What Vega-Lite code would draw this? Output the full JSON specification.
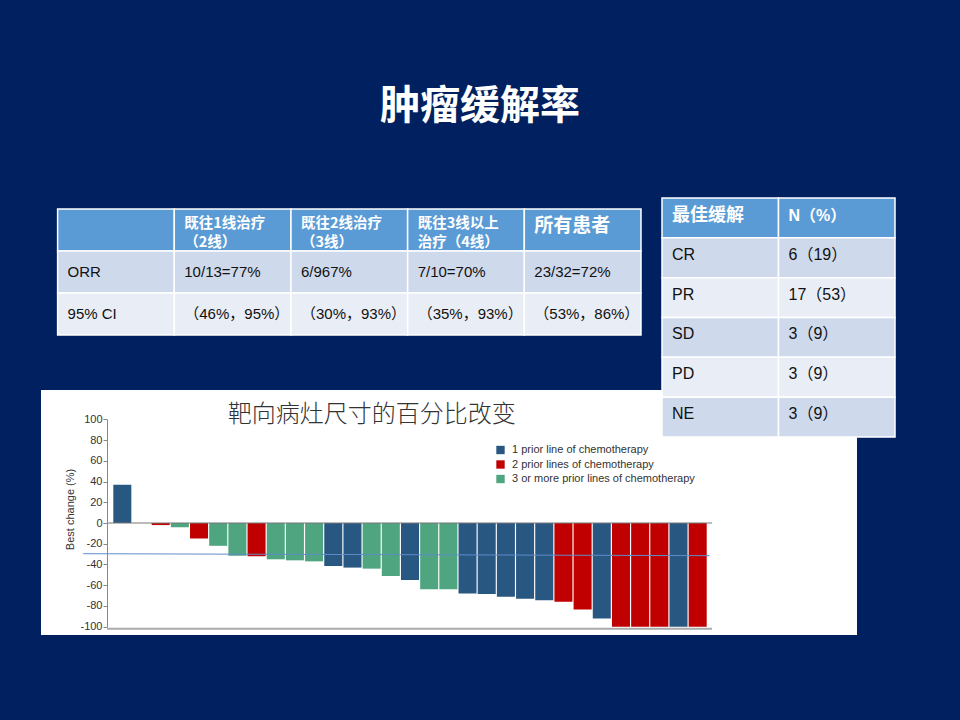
{
  "$schema": "https://vega.github.io/schema/vega-lite/v6.json",
  "width": 960,
  "height": 720,
  "autosize": "none",
  "padding": 0,
  "background": "#002060",
  "config": {"view": {"stroke": null}},
  "title": {
    "text": "肿瘤缓解率",
    "color": "white",
    "font": "Noto Sans CJK SC",
    "fontSize": 40,
    "fontWeight": "bold",
    "anchor": "middle",
    "frame": "group",
    "offset": 0,
    "baseline": "top",
    "dy": 127
  },
  "datasets": {
    "orr": [
      {"row": 0, "col": 0, "text": ""},
      {"row": 0, "col": 1, "text": "既往1线治疗\n（2线）"},
      {"row": 0, "col": 2, "text": "既往2线治疗\n（3线）"},
      {"row": 0, "col": 3, "text": "既往3线以上\n治疗（4线）"},
      {"row": 0, "col": 4, "text": "所有患者"},
      {"row": 1, "col": 0, "text": "ORR"},
      {"row": 1, "col": 1, "text": "10/13=77%"},
      {"row": 1, "col": 2, "text": "6/967%"},
      {"row": 1, "col": 3, "text": "7/10=70%"},
      {"row": 1, "col": 4, "text": "23/32=72%"},
      {"row": 2, "col": 0, "text": "95% CI"},
      {"row": 2, "col": 1, "text": "（46%，95%）"},
      {"row": 2, "col": 2, "text": "（30%，93%）"},
      {"row": 2, "col": 3, "text": "（35%，93%）"},
      {"row": 2, "col": 4, "text": "（53%，86%）"}
    ],
    "best": [
      {"row": 0, "col": 0, "text": "最佳缓解"},
      {"row": 0, "col": 1, "text": "N（%）"},
      {"row": 1, "col": 0, "text": "CR"},
      {"row": 1, "col": 1, "text": "6（19）"},
      {"row": 2, "col": 0, "text": "PR"},
      {"row": 2, "col": 1, "text": "17（53）"},
      {"row": 3, "col": 0, "text": "SD"},
      {"row": 3, "col": 1, "text": "3（9）"},
      {"row": 4, "col": 0, "text": "PD"},
      {"row": 4, "col": 1, "text": "3（9）"},
      {"row": 5, "col": 0, "text": "NE"},
      {"row": 5, "col": 1, "text": "3（9）"}
    ],
    "waterfall": [
      {"patient": 1, "change": 37, "group": "1 prior line of chemotherapy"},
      {"patient": 3, "change": -2, "group": "2 prior lines of chemotherapy"},
      {"patient": 4, "change": -4, "group": "3 or more prior lines of chemotherapy"},
      {"patient": 5, "change": -15, "group": "2 prior lines of chemotherapy"},
      {"patient": 6, "change": -22, "group": "3 or more prior lines of chemotherapy"},
      {"patient": 7, "change": -31.5, "group": "3 or more prior lines of chemotherapy"},
      {"patient": 8, "change": -32, "group": "2 prior lines of chemotherapy"},
      {"patient": 9, "change": -35, "group": "3 or more prior lines of chemotherapy"},
      {"patient": 10, "change": -36, "group": "3 or more prior lines of chemotherapy"},
      {"patient": 11, "change": -37, "group": "3 or more prior lines of chemotherapy"},
      {"patient": 12, "change": -41.5, "group": "1 prior line of chemotherapy"},
      {"patient": 13, "change": -43, "group": "1 prior line of chemotherapy"},
      {"patient": 14, "change": -44, "group": "3 or more prior lines of chemotherapy"},
      {"patient": 15, "change": -51, "group": "3 or more prior lines of chemotherapy"},
      {"patient": 16, "change": -55, "group": "1 prior line of chemotherapy"},
      {"patient": 17, "change": -64, "group": "3 or more prior lines of chemotherapy"},
      {"patient": 18, "change": -64, "group": "3 or more prior lines of chemotherapy"},
      {"patient": 19, "change": -68, "group": "1 prior line of chemotherapy"},
      {"patient": 20, "change": -68.5, "group": "1 prior line of chemotherapy"},
      {"patient": 21, "change": -71, "group": "1 prior line of chemotherapy"},
      {"patient": 22, "change": -73, "group": "1 prior line of chemotherapy"},
      {"patient": 23, "change": -74.5, "group": "1 prior line of chemotherapy"},
      {"patient": 24, "change": -76, "group": "2 prior lines of chemotherapy"},
      {"patient": 25, "change": -83.5, "group": "2 prior lines of chemotherapy"},
      {"patient": 26, "change": -92, "group": "1 prior line of chemotherapy"},
      {"patient": 27, "change": -100, "group": "2 prior lines of chemotherapy"},
      {"patient": 28, "change": -100, "group": "2 prior lines of chemotherapy"},
      {"patient": 29, "change": -100, "group": "2 prior lines of chemotherapy"},
      {"patient": 30, "change": -100, "group": "1 prior line of chemotherapy"},
      {"patient": 31, "change": -100, "group": "2 prior lines of chemotherapy"}
    ]
  },
  "layer": [
    {
      "data": {"values": [{"panel": "waterfall"}]},
      "mark": {"type": "rect", "color": "white"},
      "encoding": {
        "x": {"field": "panel", "type": "nominal", "scale": {"range": [41, 857], "paddingInner": 0, "paddingOuter": 0}, "axis": null},
        "y": {"field": "panel", "type": "nominal", "scale": {"range": [390, 635], "paddingInner": 0, "paddingOuter": 0}, "axis": null}
      }
    },
    {
      "data": {"name": "orr"},
      "layer": [
        {
          "mark": {"type": "rect", "stroke": "white", "strokeWidth": 1.5},
          "encoding": {
            "x": {"field": "col", "type": "ordinal", "scale": {"range": [57.6, 641], "paddingInner": 0, "paddingOuter": 0}, "axis": null},
            "y": {"field": "row", "type": "ordinal", "scale": {"range": [209, 335], "paddingInner": 0, "paddingOuter": 0}, "axis": null},
            "color": {"field": "row", "type": "ordinal", "scale": {"range": ["#5b9bd5", "#cfd9ec", "#e9edf5"]}, "legend": null}
          }
        },
        {
          "transform": [{"filter": "datum.row == 0"}],
          "mark": {"type": "text", "align": "left", "baseline": "top", "dx": 10, "dy": 8, "lineBreak": "\n", "lineHeight": 19, "font": "Noto Sans CJK SC", "fontWeight": "bold", "color": "white"},
          "encoding": {
            "x": {"field": "col", "type": "ordinal", "bandPosition": 0, "axis": null},
            "y": {"field": "row", "type": "ordinal", "bandPosition": 0, "axis": null},
            "text": {"field": "text"},
            "size": {"condition": {"test": "datum.col == 4", "value": 19}, "value": 14.5}
          }
        },
        {
          "transform": [{"filter": "datum.row > 0"}],
          "mark": {"type": "text", "align": "left", "baseline": "middle", "dx": 10, "fontSize": 15, "font": "Liberation Sans, Noto Sans CJK SC", "color": "#111111"},
          "encoding": {
            "x": {"field": "col", "type": "ordinal", "bandPosition": 0, "axis": null},
            "y": {"field": "row", "type": "ordinal", "axis": null},
            "text": {"field": "text"}
          }
        }
      ]
    },
    {
      "data": {"name": "best"},
      "layer": [
        {
          "mark": {"type": "rect", "stroke": "white", "strokeWidth": 1.5},
          "encoding": {
            "x": {"field": "col", "type": "ordinal", "scale": {"range": [662, 895], "paddingInner": 0, "paddingOuter": 0}, "axis": null},
            "y": {"field": "row", "type": "ordinal", "scale": {"range": [198, 437], "paddingInner": 0, "paddingOuter": 0}, "axis": null},
            "color": {"field": "row", "type": "ordinal", "scale": {"range": ["#5b9bd5", "#cfd9ec", "#e9edf5", "#cfd9ec", "#e9edf5", "#cfd9ec"]}, "legend": null}
          }
        },
        {
          "transform": [{"filter": "datum.row == 0"}],
          "mark": {"type": "text", "align": "left", "baseline": "middle", "dx": 10, "dy": -2, "font": "Liberation Sans, Noto Sans CJK SC", "fontWeight": "bold", "color": "white"},
          "encoding": {
            "x": {"field": "col", "type": "ordinal", "bandPosition": 0, "axis": null},
            "y": {"field": "row", "type": "ordinal", "axis": null},
            "text": {"field": "text"},
            "size": {"condition": {"test": "datum.col == 0", "value": 18}, "value": 16}
          }
        },
        {
          "transform": [{"filter": "datum.row > 0"}],
          "mark": {"type": "text", "align": "left", "baseline": "middle", "dx": 10, "dy": -3, "fontSize": 16, "font": "Liberation Sans, Noto Sans CJK SC", "color": "#111111"},
          "encoding": {
            "x": {"field": "col", "type": "ordinal", "bandPosition": 0, "axis": null},
            "y": {"field": "row", "type": "ordinal", "axis": null},
            "text": {"field": "text"}
          }
        }
      ]
    },
    {
      "layer": [
        {
          "data": {"name": "waterfall"},
          "mark": {"type": "bar"},
          "encoding": {
            "x": {
              "field": "patient",
              "type": "ordinal",
              "scale": {"domain": [1, 2, 3, 4, 5, 6, 7, 8, 9, 10, 11, 12, 13, 14, 15, 16, 17, 18, 19, 20, 21, 22, 23, 24, 25, 26, 27, 28, 29, 30, 31], "range": [113.3, 706.7], "paddingInner": 0.06, "paddingOuter": 0},
              "axis": null
            },
            "y": {
              "field": "change",
              "type": "quantitative",
              "scale": {"domain": [-100, 100], "range": [626.7, 419.3], "nice": false},
              "axis": {
                "orient": "left",
                "zindex": 1,
                "values": [-100, -80, -60, -40, -20, 0, 20, 40, 60, 80, 100],
                "labelExpr": "'' + datum.value",
                "offset": -107,
                "grid": false,
                "domainColor": "#888888",
                "tickColor": "#888888",
                "tickSize": 4,
                "labelFont": "Liberation Sans",
                "labelFontSize": 11,
                "labelColor": "#333333",
                "labelPadding": 1,
                "title": "Best change (%)",
                "titleFont": "Liberation Sans",
                "titleFontSize": 11,
                "titleFontWeight": "normal",
                "titleColor": "#333333",
                "titlePadding": 4,
                "titleY": 509
              }
            },
            "color": {
              "field": "group",
              "type": "nominal",
              "scale": {
                "domain": ["1 prior line of chemotherapy", "2 prior lines of chemotherapy", "3 or more prior lines of chemotherapy"],
                "range": ["#285782", "#c00000", "#4ea57f"]
              },
              "legend": {
                "title": null,
                "orient": "none",
                "legendX": 495,
                "legendY": 444.5,
                "padding": 0,
                "symbolType": "square",
                "symbolSize": 70,
                "symbolStrokeWidth": 0,
                "labelFont": "Liberation Sans",
                "labelFontSize": 11,
                "labelLimit": 0,
                "labelColor": "#333333",
                "labelOffset": 6,
                "rowPadding": 2.5
              }
            }
          }
        },
        {
          "data": {"values": [{"level": 0}]},
          "mark": {"type": "rule", "color": "#777777", "strokeWidth": 1, "xOffset": -15.3, "x2Offset": 14.3},
          "encoding": {
            "x": {"datum": 1, "type": "ordinal"},
            "x2": {"datum": 31},
            "y": {"field": "level", "type": "quantitative"}
          }
        },
        {
          "data": {"values": [{"level": -100}]},
          "mark": {"type": "rule", "color": "#aaaaaa", "strokeWidth": 2, "yOffset": 2, "xOffset": -15.3, "x2Offset": 14.3},
          "encoding": {
            "x": {"datum": 1, "type": "ordinal"},
            "x2": {"datum": 31},
            "y": {"field": "level", "type": "quantitative"}
          }
        },
        {
          "data": {"values": [{"start": -29.6, "end": -31.5}]},
          "mark": {"type": "rule", "color": "#5f8cc8", "strokeWidth": 1, "xOffset": -39, "x2Offset": 12},
          "encoding": {
            "x": {"datum": 1, "type": "ordinal"},
            "x2": {"datum": 31},
            "y": {"field": "start", "type": "quantitative"},
            "y2": {"field": "end"}
          }
        },
        {
          "data": {"values": [{"caption": "靶向病灶尺寸的百分比改变"}]},
          "mark": {"type": "text", "font": "Noto Sans CJK SC", "fontSize": 24, "fontWeight": 300, "color": "#333333", "baseline": "middle", "align": "center"},
          "encoding": {
            "x": {"datum": 14, "type": "ordinal"},
            "y": {"datum": 104},
            "text": {"field": "caption"}
          }
        }
      ]
    }
  ],
  "resolve": {
    "scale": {"x": "independent", "y": "independent", "color": "independent"}
  }
}
